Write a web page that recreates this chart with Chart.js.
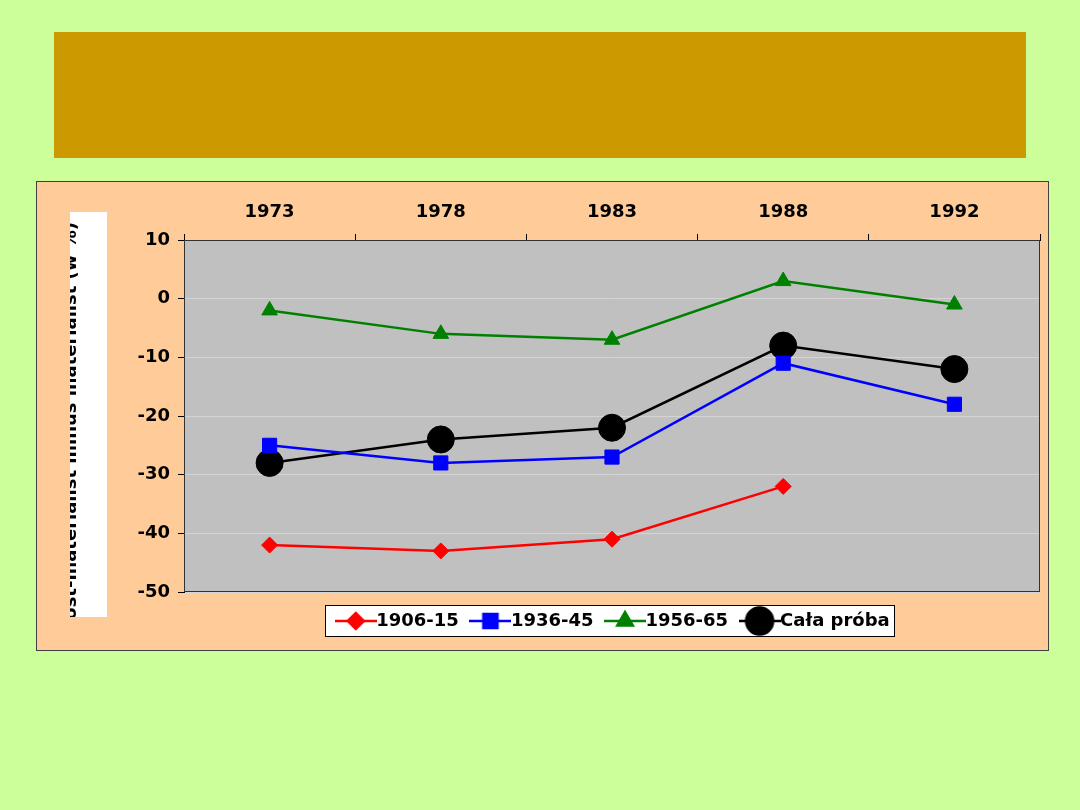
<!DOCTYPE html>
<html>
<head>
<meta charset="utf-8">
<script src="https://cdn.jsdelivr.net/npm/chart.js@4.4.0/dist/chart.umd.min.js"></script>
<style>
  html, body { margin: 0; padding: 0; background: #CCFF99; }
  #wrap { width: 1080px; height: 810px; }
</style>
</head>
<body>
<div id="wrap"><canvas id="wykres" width="1080" height="810"></canvas></div>
<script>
// dane
var lata = ['1973', '1978', '1983', '1988', '1992'];
var kohorta1906 = [-42, -43, -41, -32, null];
var kohorta1936 = [-25, -28, -27, -11, -18];
var kohorta1956 = [-2, -6, -7, 3, -1];
var calaProba = [-28, -24, -22, -8, -12];
var tickiY = [10, 0, -10, -20, -30, -40, -50];
var tytulY = 'Post-materialist minus materialist (w %)';

var FONT = '"DejaVu Sans", Verdana, sans-serif';

// male obrazki do legendy: linia + znacznik
function ikonka(kolor, styl, r) {
  var c = document.createElement('canvas');
  c.width = 42; c.height = 30;
  var ctx = c.getContext('2d');
  ctx.strokeStyle = kolor;
  ctx.lineWidth = 2.5;
  ctx.beginPath();
  ctx.moveTo(0, 15); ctx.lineTo(42, 15);
  ctx.stroke();
  Chart.helpers.drawPoint(ctx, { pointStyle: styl, radius: r, rotation: 0, borderWidth: 1 }, 21, 15);
  ctx.fillStyle = kolor;
  ctx.fill();
  return c;
}

var tlo = {
  id: 'tlo',
  afterLayout: function (chart) {
    // przesuniecie legendy troche w prawo, jak w oryginale
    var lg = chart.legend, dx = 5;
    lg.left += dx; lg.right += dx;
    (lg.legendHitBoxes || []).forEach(function (h) { h.left += dx; });
  },
  beforeDraw: function (chart) {
    var ctx = chart.ctx, a = chart.chartArea;
    ctx.save();
    ctx.fillStyle = '#CCFF99';
    ctx.fillRect(0, 0, 1080, 810);
    ctx.fillStyle = '#CC9900';
    ctx.fillRect(54, 32, 972, 126);
    ctx.fillStyle = '#FFCC99';
    ctx.fillRect(36, 181, 1013, 470);
    ctx.strokeStyle = '#404040';
    ctx.lineWidth = 1;
    ctx.strokeRect(36.5, 181.5, 1012, 469);
    ctx.fillStyle = '#C0C0C0';
    ctx.fillRect(a.left, a.top, a.right - a.left, a.bottom - a.top);

    // tytul osi Y w bialym polu (uciety jak w oryginale)
    ctx.fillStyle = '#FFFFFF';
    ctx.fillRect(70, 212, 37, 405);
    ctx.beginPath();
    ctx.rect(70, 212, 37, 405);
    ctx.clip();
    ctx.translate(76, 222);
    ctx.rotate(-Math.PI / 2);
    ctx.fillStyle = '#000';
    ctx.font = 'bold 18px ' + FONT;
    ctx.textAlign = 'right';
    ctx.textBaseline = 'alphabetic';
    ctx.fillText(tytulY, 0, 0);
    ctx.restore();

    // ramka legendy
    var hb = chart.legend.legendHitBoxes;
    if (hb && hb.length) {
      var ost = hb[hb.length - 1];
      var l = hb[0].left - 19, r = ost.left + ost.width + 5;
      var t = hb[0].top - 7, b = hb[0].top + hb[0].height + 6;
      ctx.save();
      ctx.fillStyle = '#FFFFFF';
      ctx.fillRect(l, t, r - l, b - t);
      ctx.strokeStyle = '#000';
      ctx.lineWidth = 1;
      ctx.strokeRect(Math.round(l) + 0.5, Math.round(t) + 0.5, Math.round(r - l), Math.round(b - t));
      ctx.restore();
    }
  },
  beforeDatasetsDraw: function (chart) {
    var ctx = chart.ctx, a = chart.chartArea;
    ctx.save();
    ctx.strokeStyle = '#333';
    ctx.lineWidth = 1;
    ctx.strokeRect(a.left + 0.5, a.top + 0.5, a.right - a.left - 1, a.bottom - a.top - 1);
    ctx.restore();
  }
};

var serie = [
  { label: '1906-15', data: kohorta1906, kolor: '#FF0000', styl: 'rectRot', r: 8 },
  { label: '1936-45', data: kohorta1936, kolor: '#0000FF', styl: 'rect', r: 10 },
  { label: '1956-65', data: kohorta1956, kolor: '#008000', styl: 'triangle', r: 9 },
  { label: 'Cała próba', data: calaProba, kolor: '#000000', styl: 'circle', r: 13.5 }
];

var ikony = serie.map(function (s) { return ikonka(s.kolor, s.styl, s.r); });

var myChart = new Chart(document.getElementById('wykres'), {
  type: 'line',
  data: {
    labels: lata,
    datasets: serie.map(function (s) {
      return {
        label: s.label,
        data: s.data,
        borderColor: s.kolor,
        backgroundColor: s.kolor,
        borderWidth: 2.5,
        pointStyle: s.styl,
        pointRadius: s.r,
        pointHoverRadius: s.r,
        pointBorderWidth: 1,
        tension: 0,
        fill: false
      };
    })
  },
  options: {
    responsive: false,
    animation: false,
    layout: { padding: { left: 110, right: 40, top: 190, bottom: 170 } },
    plugins: {
      tooltip: { enabled: false },
      legend: {
        position: 'bottom',
        fullSize: false,
        labels: {
          color: '#000',
          font: { family: FONT, size: 18, weight: 'bold' },
          usePointStyle: true,
          pointStyleWidth: 23,
          padding: 20,
          generateLabels: function (chart) {
            return serie.map(function (s, i) {
              return {
                text: s.label,
                pointStyle: ikony[i],
                fillStyle: s.kolor,
                strokeStyle: s.kolor,
                lineWidth: 0,
                hidden: false,
                datasetIndex: i
              };
            });
          }
        }
      }
    },
    scales: {
      x: {
        position: 'top',
        offset: true,
        afterFit: function (s) { s.height = 50; },
        grid: { offset: true, drawOnChartArea: false, tickLength: 6, tickColor: '#000' },
        border: { color: '#000', width: 1 },
        ticks: { color: '#000', font: { family: FONT, size: 18, weight: 'bold' }, padding: 11, maxRotation: 0 }
      },
      y: {
        min: -50,
        max: 10,
        afterFit: function (s) { s.width = 74; },
        afterBuildTicks: function (s) { s.ticks = tickiY.map(function (v) { return { value: v }; }); },
        grid: { color: '#D4D4D4', tickColor: '#000', tickLength: 6 },
        border: { color: '#000', width: 1 },
        ticks: { color: '#000', font: { family: FONT, size: 18, weight: 'bold' }, padding: 8 }
      }
    }
  },
  plugins: [tlo]
});
</script>
</body>
</html>
